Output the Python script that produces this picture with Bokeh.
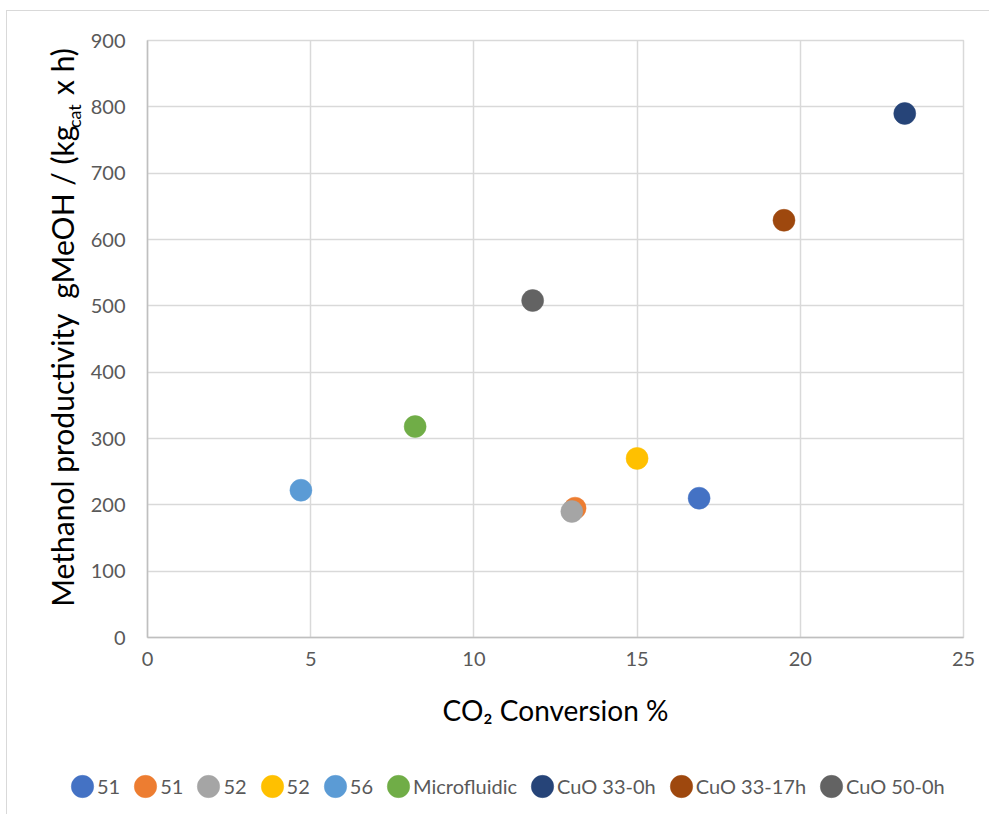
from bokeh.plotting import figure
from bokeh.layouts import column, row
from bokeh.models import (Range1d, FixedTicker, Legend, LegendItem, LinearAxis)
from bokeh.embed import file_html
from bokeh.resources import INLINE

# ---- data ----
series_names = ["51", "51", "52", "52", "56", "Microfluidic",
                "CuO 33-0h", "CuO 33-17h", "CuO 50-0h"]
co2_conversion = [16.9, 13.1, 13.0, 15.0, 4.7, 8.2, 23.2, 19.5, 11.8]
methanol_prod = [210, 195, 190, 270, 222, 318, 790, 629, 508]
palette = ["#4472C4", "#ED7D31", "#A5A5A5", "#FFC000", "#5B9BD5",
           "#70AD47", "#264478", "#9E480E", "#636363"]
x_ticks = [0, 5, 10, 15, 20, 25]
y_ticks = [0, 100, 200, 300, 400, 500, 600, 700, 800, 900]
x_title = "CO\u2082 Conversion %"
y_title_main = "Methanol productivity\u00a0\u00a0gMeOH / (kg"
y_title_sub = "cat"
y_title_end = " x h)"

FONT = "Lato"
TICK_COLOR = "#595959"
W = 982
NB = "\u00a0"

p = figure(width=W, height=747, output_backend="svg", toolbar_location=None,
           x_range=Range1d(0, 25), y_range=Range1d(0, 900),
           min_border_left=140, min_border_right=26,
           min_border_top=29, min_border_bottom=121)
p.background_fill_color = "white"
p.border_fill_color = "white"
p.outline_line_color = "#D9D9D9"
p.outline_line_width = 1.5

for ax in (p.xaxis[0], p.yaxis[0]):
    ax.major_tick_line_color = None
    ax.minor_tick_line_color = None
    ax.major_tick_out = 0
    ax.major_tick_in = 0
    ax.axis_line_color = "#BFBFBF"
    ax.axis_line_width = 1.5
    ax.major_label_text_font = FONT
    ax.major_label_text_font_size = "20px"
    ax.major_label_text_color = TICK_COLOR

p.xaxis[0].ticker = FixedTicker(ticks=x_ticks)
p.yaxis[0].ticker = FixedTicker(ticks=y_ticks)
p.xaxis[0].major_label_standoff = 14
p.yaxis[0].major_label_standoff = 22

# x title
p.xaxis[0].axis_label = x_title
p.xaxis[0].axis_label_text_font = FONT
p.xaxis[0].axis_label_text_font_size = "28px"
p.xaxis[0].axis_label_text_font_style = "normal"
p.xaxis[0].axis_label_text_color = "black"
p.xaxis[0].axis_label_standoff = 24

# y title: outer axis whose single tick label is the subscript
SUB_POS = 786
sub_axis = LinearAxis(ticker=FixedTicker(ticks=[SUB_POS]),
                      major_label_overrides={SUB_POS: y_title_sub},
                      major_label_orientation="vertical",
                      major_label_text_font=FONT,
                      major_label_text_font_size="18px",
                      major_label_text_color="black",
                      major_label_standoff=2,
                      axis_line_color=None,
                      major_tick_line_color=None, minor_tick_line_color=None,
                      major_tick_out=0, major_tick_in=0,
                      axis_label=NB * 3 + y_title_main + NB * 3 + y_title_end,
                      axis_label_text_font=FONT,
                      axis_label_text_font_size="30px",
                      axis_label_text_font_style="normal",
                      axis_label_text_color="black",
                      axis_label_standoff=-19)
p.add_layout(sub_axis, "left")

p.xgrid[0].ticker = FixedTicker(ticks=x_ticks)
p.ygrid[0].ticker = FixedTicker(ticks=y_ticks)
for g in (p.xgrid[0], p.ygrid[0]):
    g.grid_line_color = "#D9D9D9"
    g.grid_line_width = 1.5

for xv, yv, col in zip(co2_conversion, methanol_prod, palette):
    p.scatter(x=[xv], y=[yv], size=22, marker="circle",
              fill_color=col, line_color=col, line_width=0.5)

# ---- legend strip (same series; its plot area only shows the legend) ----
leg = figure(width=W, height=56, output_backend="svg", toolbar_location=None,
             x_range=Range1d(-1, 0), y_range=Range1d(-1, 0),
             x_axis_type=None, y_axis_type=None,
             min_border_left=0, min_border_right=0,
             min_border_top=0, min_border_bottom=0)
leg.outline_line_color = None
leg.xgrid.visible = False
leg.ygrid.visible = False
items = []
for name, xv, yv, col in zip(series_names, co2_conversion, methanol_prod, palette):
    r = leg.ellipse(x=[xv], y=[yv], width=22, height=22,
                    width_units="screen", height_units="screen",
                    fill_color=col, line_color=col, line_width=0.5)
    items.append(LegendItem(label=name, renderers=[r]))

legend = Legend(items=items, orientation="horizontal", ncols=9,
                location=(61, 14),
                glyph_width=28, glyph_height=28,
                label_standoff=1, spacing=11,
                padding=0, margin=0,
                border_line_color=None, background_fill_alpha=0,
                label_text_font=FONT, label_text_font_size="20px",
                label_text_color=TICK_COLOR, label_text_baseline="middle")
leg.add_layout(legend, "center")

layout = column(p, row(leg), spacing=0)
layout.styles = {"margin-left": "6px", "margin-top": "10px",
                 "border-left": "1px solid #D9D9D9", "border-top": "1px solid #D9D9D9"}

open("out.html", "w").write(file_html(layout, INLINE))
